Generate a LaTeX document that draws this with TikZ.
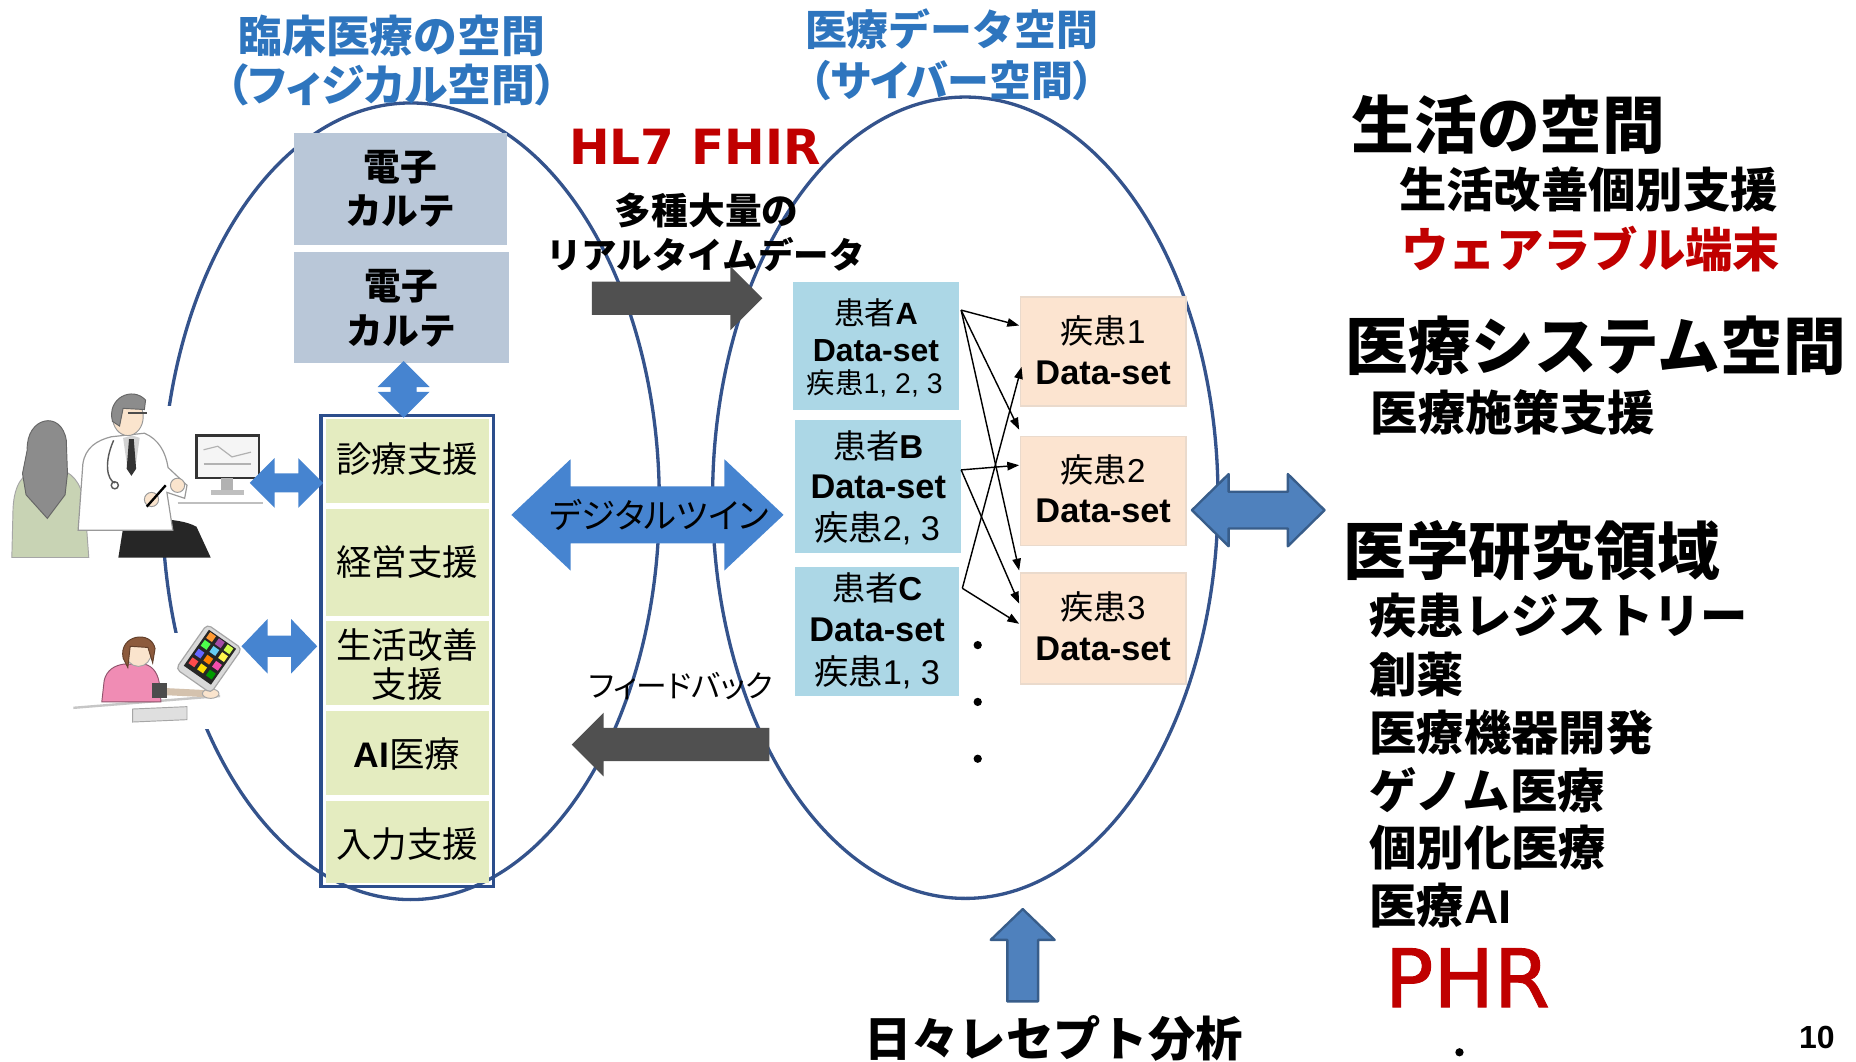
\documentclass[tikz,border=0pt]{standalone}
\usepackage{fontspec}
\setmainfont{Noto Sans CJK JP}
\newfontfamily\jpfont{Noto Sans CJK JP}
\newfontfamily\jpprop{Noto Sans CJK JP}[RawFeature=+palt]
\newfontfamily\arialf{Liberation Sans}
\newfontfamily\djv{DejaVu Sans}
\newfontfamily\djvheavy{DejaVu Sans}[FakeBold=1.2]
\usetikzlibrary{calc,fit,arrows.meta}

\newcommand{\setfs}[1]{\fontsize{#1}{#1}\selectfont}

\definecolor{ttlblue}{RGB}{46,117,190}
\definecolor{ellc}{RGB}{52,83,140}
\definecolor{kartec}{RGB}{185,199,216}
\definecolor{cellc}{RGB}{228,236,192}
\definecolor{framec}{RGB}{44,78,140}
\definecolor{lblue}{RGB}{70,132,208}
\definecolor{dgray}{RGB}{80,80,80}
\definecolor{pboxc}{RGB}{172,215,230}
\definecolor{dboxc}{RGB}{252,228,208}
\definecolor{dboxedge}{RGB}{234,218,204}
\definecolor{redc}{RGB}{192,0,0}
\definecolor{pptblue}{RGB}{79,129,189}
\definecolor{pptedge}{RGB}{56,93,138}
\definecolor{skin}{RGB}{250,228,205}
\definecolor{ptgreen}{RGB}{200,211,180}
\definecolor{hairgray}{RGB}{140,140,140}
\definecolor{pinkc}{RGB}{240,140,180}
\definecolor{hairbrown}{RGB}{140,90,60}

% horizontal double block arrow: style, left tip, right tip, y, body half, head half, head length
\newcommand{\hdbl}[7]{%
  \path[#1] (#2,#4) -- ({#2+#7},{#4-#6}) -- ({#2+#7},{#4-#5}) -- ({#3-#7},{#4-#5})
    -- ({#3-#7},{#4-#6}) -- (#3,#4) -- ({#3-#7},{#4+#6}) -- ({#3-#7},{#4+#5})
    -- ({#2+#7},{#4+#5}) -- ({#2+#7},{#4+#6}) -- cycle;}
% vertical double block arrow: style, x, top tip, bottom tip, body half, head half, head length
\newcommand{\vdbl}[7]{%
  \path[#1] (#2,#3) -- ({#2+#6},{#3+#7}) -- ({#2+#5},{#3+#7}) -- ({#2+#5},{#4-#7})
    -- ({#2+#6},{#4-#7}) -- (#2,#4) -- ({#2-#6},{#4-#7}) -- ({#2-#5},{#4-#7})
    -- ({#2-#5},{#3+#7}) -- ({#2-#6},{#3+#7}) -- cycle;}

\begin{document}
\begin{tikzpicture}[x=0.5pt,y=-0.5pt,
  every node/.style={inner sep=0pt,outer sep=0pt},
  ttl/.style={text=ttlblue,font=\jpfont\bfseries\setfs{18.5}},
  ttlp/.style={text=ttlblue,font=\jpprop\bfseries\setfs{18.5}},
  ell/.style={draw=ellc,line width=1.4pt},
  karte/.style={fill=kartec},
  kt/.style={font=\jpfont\bfseries\setfs{15.5}},
  cell/.style={fill=cellc},
  ct/.style={font=\jpfont\setfs{15}},
  stackframe/.style={draw=framec,line width=1.5pt},
  pbox/.style={fill=pboxc},
  dbox/.style={fill=dboxc,draw=dboxedge,line width=0.6pt},
  jt/.style={font=\jpfont\setfs{#1}},
  dset/.style={font=\arialf\bfseries\setfs{#1}},
  lbarrow/.style={fill=lblue},
  gyarrow/.style={fill=dgray},
  pptarrow/.style={fill=pptblue,draw=pptedge,line width=1pt,line join=round},
  thinarr/.style={-{Triangle[length=5pt,width=3.6pt]},line width=0.6pt},
  head/.style={font=\jpfont\bfseries\setfs{26.5},anchor=west},
  item/.style={font=\jpfont\bfseries\setfs{20},anchor=west},
]
\useasboundingbox (0,0) rectangle (1568,897);

% ---------- the two spaces ----------
\draw[ell] (347,423.5) ellipse [x radius=210, y radius=336.5];
\draw[ell] (815.5,420.5) ellipse [x radius=213.5, y radius=338.5];

% ---------- titles ----------
\node[ttl] (tL1) at (331,30) {臨床医療の空間};
\node[ttlp] (tL2) at (331,72) {（フィジカル空間）};
\node[ttl,font=\jpfont\bfseries\setfs{17.7}] (tR1) at (804,25) {医療データ空間};
\node[ttlp,font=\jpprop\bfseries\setfs{17.7}] (tR2) at (804,68) {（サイバー空間）};

% ---------- doctor and patient ----------
\fill[white] (4,343) rectangle (226,470);
% patient seen from behind
\filldraw[fill=ptgreen,draw=gray!70,line width=0.4pt] (10,471) -- (11,430)
  .. controls (12,408) and (20,400) .. (30,397) -- (52,397)
  .. controls (64,401) and (70,412) .. (72,430) -- (75,471) -- cycle;
\filldraw[fill=hairgray,draw=gray!80!black,line width=0.4pt] (23,380)
  .. controls (22,352) and (52,346) .. (56,372) -- (57,400) -- (55,418)
  -- (40,438) -- (22,418) -- (19,400) -- cycle;
% doctor
\fill[black!85] (100,471) -- (104,446) .. controls (112,437) and (150,436) .. (166,445) -- (178,471) -- cycle;
\filldraw[fill=white,draw=gray!80,line width=0.5pt] (66,448) -- (70,392)
  .. controls (72,378) and (82,372) .. (94,369) -- (122,366)
  .. controls (134,371) and (140,382) .. (142,395) -- (158,410) -- (156,421)
  -- (141,416) -- (146,448) -- cycle;
\fill[gray!35] (104,370) -- (112,368) -- (118,370) -- (114,398) -- (108,398) -- cycle;
\fill[black!80] (109,371) -- (113,371) -- (115,396) -- (111,402) -- (107,396) -- cycle;
\draw[gray!70!black,line width=0.6pt] (96,372) .. controls (88,390) and (90,405) .. (97,408);
\draw[gray!70!black,line width=0.6pt] (97,410) circle [radius=3];
\filldraw[fill=skin,draw=gray!80,line width=0.4pt] (108,352) ellipse [x radius=13, y radius=16];
\filldraw[fill=hairgray,draw=gray!80!black,line width=0.4pt] (95,356)
  .. controls (90,336) and (112,326) .. (123,338) -- (122,346) -- (104,345) -- (101,360) -- cycle;
\draw[black!70,line width=0.6pt] (108,349) -- (124,349);
\filldraw[fill=skin,draw=gray!80,line width=0.4pt] (150,410) circle [radius=6];
\filldraw[fill=skin,draw=gray!80,line width=0.4pt] (128,422) circle [radius=6];
\draw[black,line width=1pt] (124,428) -- (140,410);
% monitor on the desk
\filldraw[fill=gray!8,draw=black!80,line width=1pt] (166,368) rectangle (219,404);
\draw[gray!60,line width=0.5pt] (172,380) -- (184,377) -- (196,386) -- (212,382);
\draw[gray!60,line width=0.5pt] (172,392) -- (212,392);
\fill[gray!60] (187,404) rectangle (197,414);
\fill[gray!50] (178,414) rectangle (206,418);
\draw[gray!50,line width=0.5pt] (150,425) -- (222,425);

% ---------- woman with tablet ----------
\fill[white] (58,535) rectangle (218,616);
\draw[gray!45,line width=1pt] (62,598) -- (186,588);
\filldraw[fill=pinkc,draw=pinkc!60!black,line width=0.4pt] (86,593) -- (88,575)
  .. controls (90,566) and (97,562) .. (105,561) -- (122,561)
  .. controls (130,563) and (134,570) .. (135,580) -- (136,593) -- cycle;
\filldraw[fill=skin,draw=gray!70,line width=0.4pt] (117,551) ellipse [x radius=11, y radius=12];
\filldraw[fill=hairbrown,draw=hairbrown!70!black,line width=0.4pt] (104,556)
  .. controls (100,536) and (128,532) .. (131,548) -- (129,560) -- (125,547)
  -- (110,546) -- (108,564) -- cycle;
\draw[skin!85!black,line width=3pt] (134,584) -- (174,586);
\fill[black!70] (128,577) rectangle (141,590);
\filldraw[fill=skin,draw=gray!70,line width=0.4pt] (178,586) ellipse [x radius=7, y radius=4];
\filldraw[fill=gray!25,draw=gray!70,line width=0.4pt] (112,599) -- (158,597) -- (158,608) -- (112,610) -- cycle;
\begin{scope}[shift={(176.5,556.5)},rotate=55]
  \filldraw[fill=gray!30,draw=gray!70,line width=0.5pt,rounded corners=2pt] (-23,-18) rectangle (23,18);
  \fill[black!85] (-17,-14) rectangle (20,14);
  \foreach \u/\v/\c in {-10/-9/red!70,-10/0/yellow!80!orange,-10/9/green!60!black,
                        -1/-9/blue!60,-1/0/orange,-1/9/magenta!70,
                        8/-9/green!70,8/0/cyan!60,8/9/yellow!70,
                        16/-9/orange!80,16/0/violet!70,16/9/lime!70}
    \fill[\c] ({\u-3},{\v-3}) rectangle ({\u+3},{\v+3});
\end{scope}

% ---------- electronic records ----------
\node[karte,fit={(248,112)(428,207)}] (k1) {};
\node[kt] (k1a) at (338,141) {電子};
\node[kt] (k1b) at (338,178) {カルテ};
\node[karte,fit={(248,213)(430,307)}] (k2) {};
\node[kt] (k2a) at (339,242) {電子};
\node[kt] (k2b) at (339,280) {カルテ};

% ---------- support stack ----------
\node[cell,fit={(275,354)(413,425)}] (c1) {};
\node[cell,fit={(275,430)(413,520)}] (c2) {};
\node[cell,fit={(275,525)(413,596)}] (c3) {};
\node[cell,fit={(275,601)(413,672)}] (c4) {};
\node[cell,fit={(275,677)(413,746)}] (c5) {};
\node[stackframe,fit={(271,351)(417,749)}] (stack) {};
\node[ct] (c1t) at (344,388) {診療支援};
\node[ct] (c2t) at (344,475) {経営支援};
\node[ct] (c3t) at (344,545) {生活改善};
\node[ct] (c3u) at (344,578) {支援};
\node[ct] (c4t) at (344,637) {{\arialf\bfseries AI}医療};
\node[ct] (c5t) at (344,713) {入力支援};

% ---------- light blue connectors on the physical side ----------
\vdbl{lbarrow}{341}{305}{353}{11}{22}{22}
\hdbl{lbarrow}{211}{273}{408}{8}{21}{21}
\hdbl{lbarrow}{204}{268}{546}{9}{23}{22}

% ---------- data flow between the spaces ----------
\node[font=\djv\bfseries\setfs{20.5},text=redc] (hl7) at (587,124) {HL7 FHIR};
\node[font=\jpfont\bfseries\setfs{15.5}] (rt1) at (597,178) {多種大量の};
\node[font=\jpfont\bfseries\setfs{15}] (rt2) at (596,215) {リアルタイムデータ};
\path[gyarrow] (500,238) -- (617,238) -- (617,225) -- (644,252) -- (617,279) -- (617,266) -- (500,266) -- cycle;

\hdbl{lbarrow}{432}{662}{435}{24}{47}{50}
\node[font=\jpprop\setfs{14.5}] (twin) at (557,435) {デジタルツイン};

\node[font=\jpprop\setfs{13}] (fb) at (575,580) {フィードバック};
\path[gyarrow] (650,615) -- (510,615) -- (510,602) -- (483,629) -- (510,656) -- (510,643) -- (650,643) -- cycle;

% ---------- patient data sets ----------
\node[pbox,fit={(670,238)(810,346)}] (pA) {};
\node[pbox,fit={(672,355)(812,467)}] (pB) {};
\node[pbox,fit={(672,479)(810,588)}] (pC) {};
\node[jt=13] (pA1) at (740,264) {患者{\arialf\bfseries A}};
\node[dset=13.5] (pA2) at (740,296) {Data-set};
\node[jt=12] (pA3) at (739,324) {疾患{\arialf 1, 2, 3}};
\node[jt=14] (pB1) at (742,377) {患者{\arialf\bfseries B}};
\node[dset=14.5] (pB2) at (742,411) {Data-set};
\node[jt=14.5] (pB3) at (741,446) {疾患{\arialf 2, 3}};
\node[jt=14] (pC1) at (741,497) {患者{\arialf\bfseries C}};
\node[dset=14.5] (pC2) at (741,532) {Data-set};
\node[jt=14.5] (pC3) at (741,568) {疾患{\arialf 1, 3}};

% ---------- disease data sets ----------
\node[dbox,fit={(862,251)(1002,343)}] (d1) {};
\node[dbox,fit={(862,369)(1002,461)}] (d2) {};
\node[dbox,fit={(862,484)(1002,578)}] (d3) {};
\node[jt=14] (d1a) at (932,280) {疾患{\arialf 1}};
\node[dset=14.5] (d1b) at (932,315) {Data-set};
\node[jt=14] (d2a) at (932,397) {疾患{\arialf 2}};
\node[dset=14.5] (d2b) at (932,432) {Data-set};
\node[jt=14] (d3a) at (932,513) {疾患{\arialf 3}};
\node[dset=14.5] (d3b) at (932,548) {Data-set};

% ports of the patient-to-disease links
\coordinate (oA) at ($(pA.north east)+(2,24)$);
\coordinate (oB) at ($(pB.north east)+(0,42)$);
\coordinate (oC) at ($(pC.north east)+(3,18)$);
\coordinate (iA1) at ($(d1.north west)+(-1,24)$);
\coordinate (iC1) at ($(d1.north west)+(1,59)$);
\coordinate (iA2) at ($(d2.north west)+(-1,-6)$);
\coordinate (iB2) at ($(d2.north west)+(-1,24)$);
\coordinate (iA3) at ($(d3.north west)+(-1,-2)$);
\coordinate (iB3) at ($(d3.north west)+(-1,26)$);
\coordinate (iC3) at ($(d3.north west)+(-1,43)$);
\draw[thinarr] (oA) -- (iA1);
\draw[thinarr] (oA) -- (iA2);
\draw[thinarr] (oA) -- (iA3);
\draw[thinarr] (oB) -- (iB2);
\draw[thinarr] (oB) -- (iB3);
\draw[thinarr] (oC) -- (iC1);
\draw[thinarr] (oC) -- (iC3);

\fill (826,545) circle [radius=3.5];
\fill (826,593) circle [radius=3.5];
\fill (826,641) circle [radius=3.5];

% ---------- outward links ----------
\hdbl{pptarrow}{1007}{1119}{431}{15.5}{30.5}{31}
\path[pptarrow] (864,768) -- (891,794) -- (877,794) -- (877,846) -- (851,846) -- (851,794) -- (837,794) -- cycle;
\node[font=\jpfont\bfseries\setfs{20},anchor=west] (rece) at (730,877) {日々レセプト分析};

% ---------- application areas ----------
\node[head] (life) at (1142,105) {生活の空間};
\node[item] (life1) at (1182,160) {生活改善個別支援};
\node[item,text=redc] (life2) at (1184,210) {ウェアラブル端末};
\node[head] (sys) at (1137,292) {医療システム空間};
\node[item] (sys1) at (1158,348) {医療施策支援};
\node[head] (res) at (1135,465) {医学研究領域};
\node[item] (res1) at (1157,520) {疾患レジストリー};
\node[item] (res2) at (1157,570) {創薬};
\node[item] (res3) at (1157,619) {医療機器開発};
\node[item] (res4) at (1157,668) {ゲノム医療};
\node[item] (res5) at (1157,716) {個別化医療};
\node[item] (res6) at (1157,765) {医療{\arialf AI}};
\node[font=\djvheavy\setfs{34},text=redc,anchor=west] (phr) at (1170,826) {PHR};
\fill (1233,889) circle [radius=3.5];
\node[font=\arialf\bfseries\setfs{13.5},anchor=base west] (pg) at (1520,886) {10};
\end{tikzpicture}
\end{document}
